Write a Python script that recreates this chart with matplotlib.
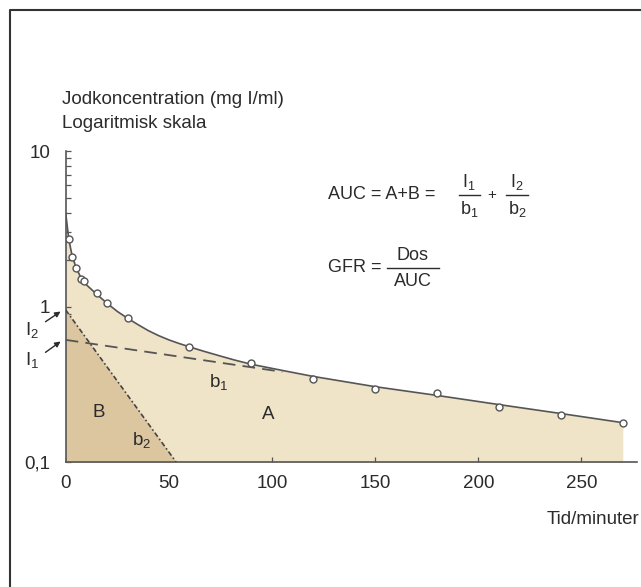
import matplotlib
matplotlib.use('Agg')
import matplotlib.pyplot as plt
from matplotlib.lines import Line2D
from matplotlib.ticker import FixedLocator, LogLocator, NullFormatter
import numpy as np

plt.rcParams.update({
    "font.family": ["Liberation Sans", "DejaVu Sans"],
    "mathtext.fontset": "custom",
    "mathtext.rm": "Liberation Sans",
    "mathtext.it": "Liberation Sans",
    "mathtext.bf": "Liberation Sans",
})

# ---------------------------------------------------------------- data
# measured samples (minutes, mg I/ml)
sample_min = [1.5, 3, 5, 7.5, 9, 15, 20, 30, 60, 90, 120, 150, 180, 210, 240, 270]
sample_conc = [2.71, 2.09, 1.78, 1.50, 1.46, 1.22, 1.05, 0.84, 0.552, 0.432,
               0.341, 0.294, 0.277, 0.227, 0.200, 0.179]
# fitted curve
curve_min = [0, 1.5, 3, 5, 7.5, 10, 15, 20, 25, 30, 35, 40, 45, 50, 55, 60, 67, 75, 82,
             90, 105, 120, 150, 180, 210, 240, 270]
curve_conc = [3.98, 2.71, 2.15, 1.78, 1.52, 1.38, 1.20, 1.05, 0.93, 0.84, 0.765, 0.70,
              0.65, 0.61, 0.578, 0.55, 0.515, 0.48, 0.452, 0.425, 0.388, 0.355, 0.305,
              0.268, 0.234, 0.205, 0.179]
# slow component (I1, b1) and fast component (I2, b2)
slow_min = [0, 105]
slow_conc = [0.61, 0.38]
fast_min = [0, 53.5]
fast_conc = [0.95, 0.1]

x_ticks = [0, 50, 100, 150, 200, 250]
y_ticks = [0.1, 1, 10]
y_ticklabels = ['0,1', '1', '10']

W, H = 641, 587
TXT = '#2b2b2b'
LINE = '#555555'
LIGHT = '#efe3c8'
DARK = '#dbc69f'
FS = 13.5
FF = 13   # formula text


def fx(px):
    return px / W


def fy(py):
    return 1 - py / H


fig = plt.figure(figsize=(W / 100, H / 100), dpi=100)
fig.patch.set_facecolor('white')
ax = fig.add_axes([fx(65.7), fy(462), fx(571.5), 311 / H])

ax.set_yscale('log')
ax.set_xlim(0, 277)
ax.set_ylim(0.1, 10)

# areas
ax.fill_between(curve_min, 0.1, curve_conc, color=LIGHT, lw=0, zorder=1)
ax.fill_between(fast_min, 0.1, fast_conc, color=DARK, lw=0, zorder=2)

# lines
ax.plot(curve_min, curve_conc, color=LINE, lw=1.2, zorder=4)
ax.plot(slow_min, slow_conc, color=LINE, lw=1.3, dashes=(7, 4), zorder=3)
ax.plot(fast_min, fast_conc, color='#444444', lw=1.2, dashes=(3, 1.5, 1, 1.5), zorder=3)
ax.plot(sample_min, sample_conc, 'o', ms=5, mfc='white', mec=LINE, mew=1, zorder=5)

# axes styling
for s in ['top', 'right']:
    ax.spines[s].set_visible(False)
for s in ['left', 'bottom']:
    ax.spines[s].set_color(LINE)
    ax.spines[s].set_linewidth(1.2)
ax.set_facecolor('none')
ax.xaxis.set_major_locator(FixedLocator(x_ticks))
ax.set_xticklabels([str(v) for v in x_ticks])
ax.yaxis.set_major_locator(FixedLocator(y_ticks))
ax.set_yticklabels(y_ticklabels)
ax.yaxis.set_minor_locator(LogLocator(base=10, subs=np.arange(2, 10)))
ax.yaxis.set_minor_formatter(NullFormatter())
ax.tick_params(which='both', direction='in', length=3.5, width=0.9, color=LINE,
               labelcolor=TXT, labelsize=FS)
ax.tick_params(axis='x', pad=9)
ax.tick_params(axis='y', pad=11)

# region labels
ax.text(15.8, 0.207, 'B', fontsize=FS, color=TXT, ha='center', va='center', zorder=6)
ax.text(98, 0.201, 'A', fontsize=FS, color=TXT, ha='center', va='center', zorder=6)
ax.text(74, 0.329, 'b$_1$', fontsize=FS, color=TXT, ha='center', va='center', zorder=6)
ax.text(36.8, 0.139, 'b$_2$', fontsize=FS, color=TXT, ha='center', va='center', zorder=6)

# intercept labels with arrows
ax.text(-16.5, 0.707, 'I$_2$', fontsize=FS, color=TXT, ha='center', va='center', clip_on=False)
ax.text(-16.5, 0.453, 'I$_1$', fontsize=FS, color=TXT, ha='center', va='center', clip_on=False)
ax.annotate('', xy=(-1.4, 0.95), xytext=(-10.9, 0.78), annotation_clip=False,
            arrowprops=dict(arrowstyle='-|>', color=TXT, lw=1, mutation_scale=8))
ax.annotate('', xy=(-1.4, 0.61), xytext=(-10.9, 0.495), annotation_clip=False,
            arrowprops=dict(arrowstyle='-|>', color=TXT, lw=1, mutation_scale=8))

# titles
fig.text(fx(62), fy(100), 'Jodkoncentration (mg I/ml)', fontsize=FS, color=TXT, va='center')
fig.text(fx(62), fy(124), 'Logaritmisk skala', fontsize=FS, color=TXT, va='center')
fig.text(fx(639), fy(520), 'Tid/minuter', fontsize=FS, color=TXT, ha='right', va='center')

# formulas
fig.text(fx(328), fy(195), 'AUC = A+B =', fontsize=FF, color=TXT, va='center')
fig.text(fx(469), fy(182), 'I$_1$', fontsize=FF, color=TXT, ha='center', va='center')
fig.text(fx(469), fy(209), 'b$_1$', fontsize=FF, color=TXT, ha='center', va='center')
fig.add_artist(Line2D([fx(459), fx(480)], [fy(195), fy(195)], color=TXT, lw=1))
fig.text(fx(492), fy(195), '+', fontsize=FF - 2, color=TXT, ha='center', va='center')
fig.text(fx(517), fy(182), 'I$_2$', fontsize=FF, color=TXT, ha='center', va='center')
fig.text(fx(517), fy(209), 'b$_2$', fontsize=FF, color=TXT, ha='center', va='center')
fig.add_artist(Line2D([fx(506), fx(528)], [fy(195), fy(195)], color=TXT, lw=1))

fig.text(fx(328), fy(268), 'GFR =', fontsize=FF, color=TXT, va='center')
fig.add_artist(Line2D([fx(387), fx(439)], [fy(268), fy(268)], color=TXT, lw=1))
fig.text(fx(413), fy(256), 'Dos', fontsize=FF, color=TXT, ha='center', va='center')
fig.text(fx(413), fy(281), 'AUC', fontsize=FF, color=TXT, ha='center', va='center')

# frame of the original figure
fig.add_artist(Line2D([fx(10), fx(10), fx(W + 5)], [fy(H + 5), fy(9.5), fy(9.5)],
                      color='#333333', lw=1.5))

fig.savefig('out.png', dpi=100)
